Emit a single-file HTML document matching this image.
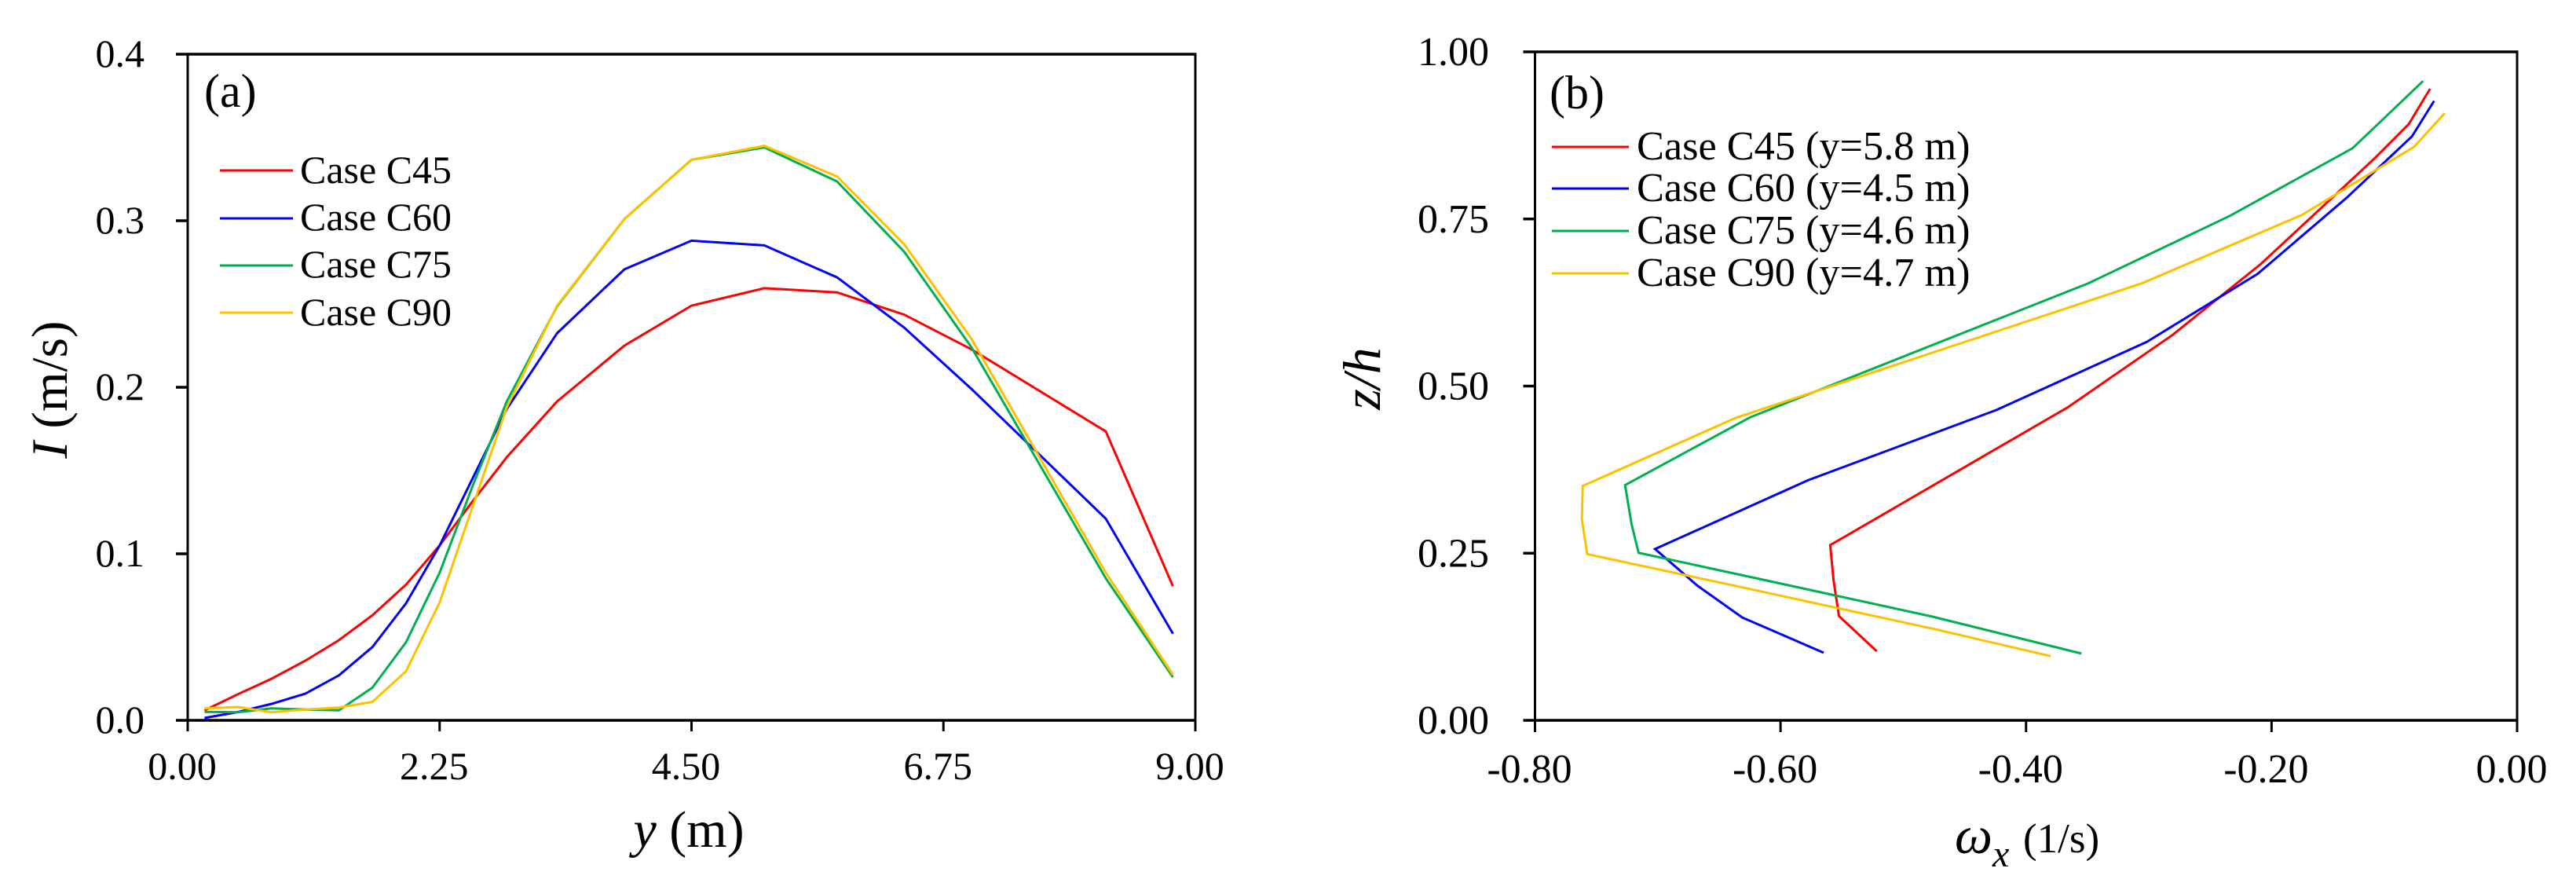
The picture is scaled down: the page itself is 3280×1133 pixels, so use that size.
<!DOCTYPE html>
<html lang="en">
<head>
<meta charset="utf-8">
<title>Turbulence intensity and vorticity profiles</title>
<style>
html,body{margin:0;padding:0;background:#fff;}
svg{display:block;}
text{font-family:"Liberation Serif","Times New Roman",serif;fill:#000;}
.i{font-style:italic;}
</style>
</head>
<body>
<svg id="chart" xmlns="http://www.w3.org/2000/svg" width="3280" height="1133" viewBox="0 0 3280 1133">
  <rect x="0" y="0" width="3280" height="1133" fill="#fff"/>

  <g id="panelA">
    <g id="panelASeries"></g>
    <g id="panelAAxes"></g>
    <text x="260" y="136" font-size="60">(a)</text>
    <text transform="translate(85,496) rotate(-90)" text-anchor="middle" font-size="65"><tspan class="i">I</tspan> (m/s)</text>
    <text x="877" y="1078" text-anchor="middle" font-size="66"><tspan class="i">y</tspan> (m)</text>
    <g font-size="50">
      <g><line x1="280" x2="373" y1="217" y2="217" stroke="#ff0000" stroke-width="3"/><text x="382" y="233">Case C45</text></g>
      <g><line x1="280" x2="373" y1="278" y2="278" stroke="#0000ff" stroke-width="3"/><text x="382" y="293">Case C60</text></g>
      <g><line x1="280" x2="373" y1="338" y2="338" stroke="#00b050" stroke-width="3"/><text x="382" y="353">Case C75</text></g>
      <g><line x1="280" x2="373" y1="398" y2="398" stroke="#ffc000" stroke-width="3"/><text x="382" y="414">Case C90</text></g>
    </g>
  </g>

  <g id="panelB">
    <g id="panelBSeries"></g>
    <g id="panelBAxes"></g>
    <text x="1973" y="138" font-size="60">(b)</text>
    <text class="i" transform="translate(1757,482) rotate(-90)" text-anchor="middle" font-size="68">z/h</text>
    <text x="2489" y="1086" font-size="53"><tspan class="i" font-size="68">ω</tspan><tspan class="i" font-size="48" x="2537" y="1103">x</tspan><tspan x="2576" y="1085">(1/s)</tspan></text>
    <g font-size="52.3">
      <g><line x1="1976" x2="2074" y1="187" y2="187" stroke="#ff0000" stroke-width="3"/><text x="2084" y="203">Case C45 (y=5.8 m)</text></g>
      <g><line x1="1976" x2="2074" y1="240" y2="240" stroke="#0000ff" stroke-width="3"/><text x="2084" y="256">Case C60 (y=4.5 m)</text></g>
      <g><line x1="1976" x2="2074" y1="294" y2="294" stroke="#00b050" stroke-width="3"/><text x="2084" y="310">Case C75 (y=4.6 m)</text></g>
      <g><line x1="1976" x2="2074" y1="348" y2="348" stroke="#ffc000" stroke-width="3"/><text x="2084" y="364">Case C90 (y=4.7 m)</text></g>
    </g>
  </g>
</svg>

<script>
// Panel (a): shared span positions (m)
var aPositions = [0.15,0.45,0.75,1.05,1.35,1.65,1.95,2.25,2.55,2.85,3.3,3.9,4.5,5.15,5.8,6.4,7.0,8.2,8.8];
var aC45 = [0.006,0.0157,0.025,0.0358,0.0481,0.0631,0.0815,0.105,0.132,0.158,0.1915,0.225,0.249,0.2595,0.257,0.2436,0.2228,0.1735,0.0805];
var aC60 = [0.0014,0.005,0.0099,0.016,0.027,0.044,0.0703,0.105,0.146,0.187,0.2325,0.2708,0.288,0.2852,0.266,0.2358,0.199,0.1211,0.052];
var aC75 = [0.0051,0.0048,0.0072,0.0065,0.006,0.0196,0.0469,0.0887,0.1416,0.1915,0.2486,0.301,0.3366,0.344,0.3236,0.2813,0.224,0.0853,0.0259];
var aC90 = [0.0072,0.008,0.0048,0.0065,0.0077,0.0111,0.0295,0.0708,0.1293,0.188,0.249,0.301,0.3366,0.345,0.3266,0.2858,0.2291,0.0887,0.0273];
var aXTicks = [0,2.25,4.5,6.75,9];
var aXTickLabels = ["0.00","2.25","4.50","6.75","9.00"];
var aYTicks = [0,0.1,0.2,0.3,0.4];
var aYTickLabels = ["0.0","0.1","0.2","0.3","0.4"];

// Panel (b): vorticity (1/s) against z/h
var bC45Omega = [-0.5216,-0.5524,-0.5568,-0.5595,-0.463,-0.3659,-0.2806,-0.2087,-0.1167,-0.0883,-0.0709];
var bC45Z = [0.1033,0.156,0.209,0.262,0.365,0.4684,0.5766,0.6827,0.8396,0.8918,0.9448];
var bC60Omega = [-0.5648,-0.6312,-0.668,-0.7022,-0.5776,-0.4244,-0.3017,-0.2114,-0.1385,-0.0856,-0.0676];
var bC60Z = [0.1011,0.1538,0.2019,0.2563,0.3591,0.4641,0.566,0.6678,0.7823,0.8736,0.9266];
var bC75Omega = [-0.3548,-0.4762,-0.601,-0.7156,-0.7213,-0.7266,-0.6245,-0.3492,-0.2338,-0.1341,-0.0766];
var bC75Z = [0.0999,0.1551,0.205,0.2507,0.2932,0.3519,0.4535,0.6538,0.7548,0.8557,0.9563];
var bC90Omega = [-0.3799,-0.4754,-0.6328,-0.7575,-0.7618,-0.7611,-0.6362,-0.305,-0.1752,-0.0839,-0.0589];
var bC90Z = [0.096,0.1368,0.1995,0.2486,0.3009,0.3506,0.4527,0.6542,0.756,0.8579,0.9084];
var bXTicks = [-0.8,-0.6,-0.4,-0.2,0];
var bXTickLabels = ["-0.80","-0.60","-0.40","-0.20","0.00"];
var bYTicks = [0,0.25,0.5,0.75,1];
var bYTickLabels = ["0.00","0.25","0.50","0.75","1.00"];

var seriesColors = ["#ff0000","#0000ff","#00b050","#ffc000"];
var seriesNames = ["c45","c60","c75","c90"];

var NS = "http://www.w3.org/2000/svg";

function scale(d0, d1, r0, r1) {
  return function (v) { return r0 + (v - d0) / (d1 - d0) * (r1 - r0); };
}

var aX = scale(0, 9, 239, 1522);
var aY = scale(0, 0.4, 917, 69);
var bX = scale(-0.8, 0, 1954.5, 3205);
var bY = scale(0, 1, 917, 66);

function drawSeries(host, xs, ys, xScale, yScale, index, panel) {
  var pts = [];
  for (var i = 0; i < xs.length; i++) {
    pts.push(xScale(xs[i]).toFixed(1) + "," + yScale(ys[i]).toFixed(1));
  }
  var el = document.createElementNS(NS, "polyline");
  
  
  el.setAttribute("points", pts.join(" "));
  el.setAttribute("fill", "none");
  el.setAttribute("stroke", seriesColors[index]);
  el.setAttribute("stroke-width", "3");
  el.setAttribute("stroke-linejoin", "miter");
  host.appendChild(el);
}

function drawFrame(host, left, right, top, bottom) {
  var el;
  el = document.createElementNS(NS, "line");
  
  
  el.setAttribute("x1", left); el.setAttribute("x2", right + 1.5);
  el.setAttribute("y1", top); el.setAttribute("y2", top);
  el.setAttribute("stroke", "#000"); el.setAttribute("stroke-width", "3.5");
  host.appendChild(el);

  el = document.createElementNS(NS, "line");
  
  
  el.setAttribute("x1", left); el.setAttribute("x2", right + 1.5);
  el.setAttribute("y1", bottom); el.setAttribute("y2", bottom);
  el.setAttribute("stroke", "#000"); el.setAttribute("stroke-width", "3.5");
  host.appendChild(el);

  el = document.createElementNS(NS, "line");
  
  
  el.setAttribute("x1", left); el.setAttribute("x2", left);
  el.setAttribute("y1", top); el.setAttribute("y2", bottom);
  el.setAttribute("stroke", "#000"); el.setAttribute("stroke-width", "3");
  host.appendChild(el);

  el = document.createElementNS(NS, "line");
  
  
  el.setAttribute("x1", right); el.setAttribute("x2", right);
  el.setAttribute("y1", top); el.setAttribute("y2", bottom);
  el.setAttribute("stroke", "#000"); el.setAttribute("stroke-width", "3");
  host.appendChild(el);
}

function drawXTicks(host, ticks, labels, xScale, axisY, len, labelY, offset, size) {
  for (var i = 0; i < ticks.length; i++) {
    var x = xScale(ticks[i]);
    var t = document.createElementNS(NS, "line");
    
    
    t.setAttribute("x1", x); t.setAttribute("x2", x);
    t.setAttribute("y1", axisY); t.setAttribute("y2", axisY + len);
    t.setAttribute("stroke", "#000"); t.setAttribute("stroke-width", "3");
    host.appendChild(t);

    var l = document.createElementNS(NS, "text");
    
    
    l.setAttribute("x", x + offset);
    l.setAttribute("y", labelY);
    l.setAttribute("text-anchor", "middle");
    l.setAttribute("font-size", size);
    l.textContent = labels[i];
    host.appendChild(l);
  }
}

function drawYTicks(host, ticks, labels, yScale, axisX, len, labelX, offset, size) {
  for (var i = 0; i < ticks.length; i++) {
    var y = yScale(ticks[i]);
    var t = document.createElementNS(NS, "line");
    
    
    t.setAttribute("x1", axisX - len); t.setAttribute("x2", axisX);
    t.setAttribute("y1", y); t.setAttribute("y2", y);
    t.setAttribute("stroke", "#000"); t.setAttribute("stroke-width", "3.5");
    host.appendChild(t);

    var l = document.createElementNS(NS, "text");
    
    
    l.setAttribute("x", labelX);
    l.setAttribute("y", y + offset);
    l.setAttribute("text-anchor", "end");
    l.setAttribute("font-size", size);
    l.textContent = labels[i];
    host.appendChild(l);
  }
}

var aSeriesHost = document.getElementById("panelASeries");
drawSeries(aSeriesHost, aPositions, aC45, aX, aY, 0, "panel-a");
drawSeries(aSeriesHost, aPositions, aC60, aX, aY, 1, "panel-a");
drawSeries(aSeriesHost, aPositions, aC75, aX, aY, 2, "panel-a");
drawSeries(aSeriesHost, aPositions, aC90, aX, aY, 3, "panel-a");

var bSeriesHost = document.getElementById("panelBSeries");
drawSeries(bSeriesHost, bC45Omega, bC45Z, bX, bY, 0, "panel-b");
drawSeries(bSeriesHost, bC60Omega, bC60Z, bX, bY, 1, "panel-b");
drawSeries(bSeriesHost, bC75Omega, bC75Z, bX, bY, 2, "panel-b");
drawSeries(bSeriesHost, bC90Omega, bC90Z, bX, bY, 3, "panel-b");

var aAxesHost = document.getElementById("panelAAxes");
drawFrame(aAxesHost, aX(0), aX(9), aY(0.4), aY(0));
drawXTicks(aAxesHost, aXTicks, aXTickLabels, aX, aY(0), 14, 992, -7, 50);
drawYTicks(aAxesHost, aYTicks, aYTickLabels, aY, aX(0), 15, 184, 16, 50);

var bAxesHost = document.getElementById("panelBAxes");
drawFrame(bAxesHost, bX(-0.8), bX(0), bY(1), bY(0));
drawXTicks(bAxesHost, bXTicks, bXTickLabels, bX, bY(0), 15, 996, -7, 52);
drawYTicks(bAxesHost, bYTicks, bYTickLabels, bY, bX(-0.8), 15, 1896, 17, 52);
</script>
</body>
</html>
